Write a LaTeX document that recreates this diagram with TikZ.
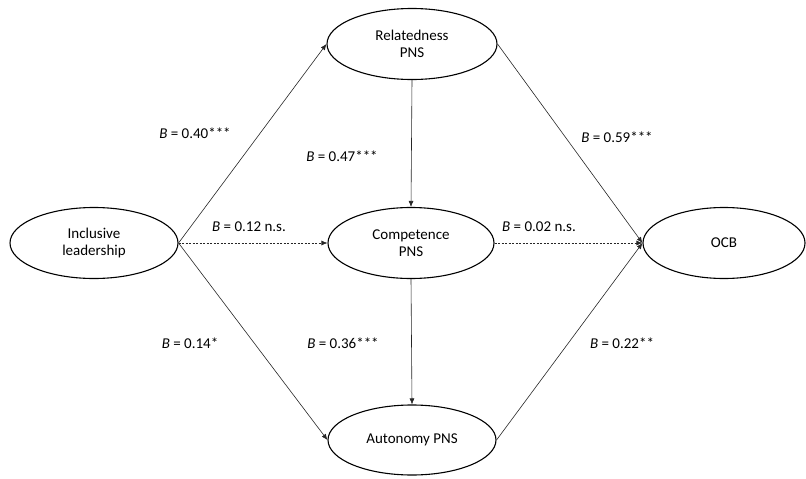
\documentclass[tikz,border=0pt]{standalone}
\usepackage{fontspec}
\setmainfont{Carlito}
\usetikzlibrary{shapes,arrows.meta,positioning}

\begin{document}
\begin{tikzpicture}[x=1pt, y=-1pt, >={Latex[length=6pt,width=5pt]},
    var/.style={ellipse, draw, line width=1.1pt, minimum width=168pt, minimum height=71pt, inner sep=0pt, align=center, font=\fontsize{15}{17}\selectfont},
    effect/.style={->, line width=0.6pt, draw=black!85},
    ns/.style={effect, dash pattern=on 2pt off 1.5pt},
    coef/.style={font=\fontsize{15}{17}\selectfont}]
    \useasboundingbox (0,0) rectangle (806,479);
    % latent variables
    \node[var] (lead) at (94,243) {Inclusive\\leadership};
    \node[var, minimum width=170pt] (rel) at (412,44) {Relatedness\\PNS};
    \node[var, minimum width=166pt] (comp) at (411,243) {Competence\\PNS};
    \node[var, minimum height=70pt] (auto) at (412,440) {Autonomy PNS};
    \node[var, minimum width=162pt] (ocb) at (724,243) {OCB};
    % paths
    \draw[effect] (lead.east) -- (rel.west);
    \draw[ns] (lead.east) -- (comp.west);
    \draw[effect] (lead.east) -- (auto.west);
    \draw[effect] (rel.south) -- (comp.north);
    \draw[effect] (comp.south) -- (auto.north);
    \draw[effect] (rel.east) -- (ocb.west);
    \draw[ns] (comp.east) -- (ocb.west);
    \draw[effect] (auto.east) -- (ocb.west);
    % coefficients
    \node[coef] (b1) at (195,133) {\textit{B} = 0.40***};
    \node[coef] (b2) at (342,156) {\textit{B} = 0.47***};
    \node[coef] (b3) at (249,227) {\textit{B} = 0.12 n.s.};
    \node[coef] (b4) at (539,227) {\textit{B} = 0.02 n.s.};
    \node[coef] (b5) at (617,137) {\textit{B} = 0.59***};
    \node[coef] (b6) at (190,343) {\textit{B} = 0.14*};
    \node[coef] (b7) at (343,343) {\textit{B} = 0.36***};
    \node[coef] (b8) at (622,343) {\textit{B} = 0.22**};
\end{tikzpicture}
\end{document}
